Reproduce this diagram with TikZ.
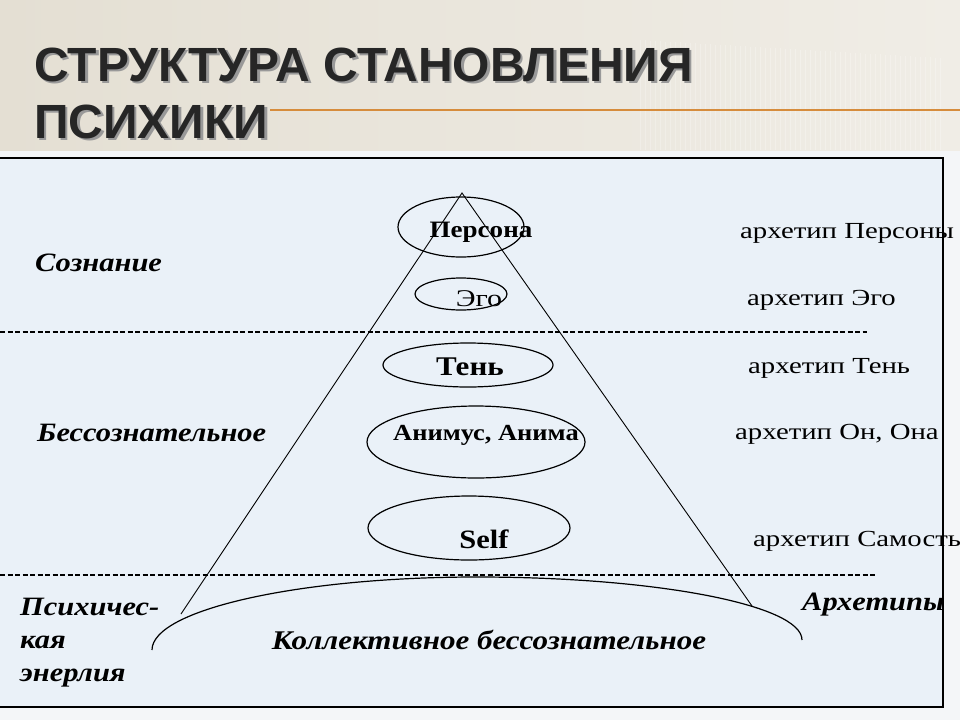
\documentclass[tikz,border=0pt]{standalone}
\usepackage{fontspec}
\setmainfont{Liberation Serif}
\newfontfamily\titlefont{Liberation Sans}
\newfontfamily\diagfont[FakeStretch=1.15]{Liberation Serif}
\newfontfamily\archfont[FakeStretch=1.25]{Liberation Serif}
\usetikzlibrary{shapes.geometric}
\definecolor{beigeL}{RGB}{228,223,211}
\definecolor{beigeR}{RGB}{240,237,230}
\definecolor{boxblue}{RGB}{234,241,248}
\definecolor{orangeline}{RGB}{214,140,60}
\definecolor{pagebg}{RGB}{244,246,248}
\newcommand{\shadowed}[1]{\makebox[0pt][l]{\hspace{2.5pt}\raisebox{-2.5pt}{\color{black!40}#1}}#1}
\tikzset{
  titletext/.style={anchor=base west, inner sep=0pt, font=\titlefont\bfseries\fontsize{48}{48}\selectfont, text=black!85},
  ellbox/.style={draw, ellipse, line width=1.2pt, inner sep=0pt},
  elltext/.style={inner sep=0pt, font=\diagfont\bfseries\fontsize{23}{23}\selectfont},
  archtext/.style={inner sep=0pt, anchor=west, font=\archfont\fontsize{23}{23}\selectfont},
  levtext/.style={inner sep=0pt, anchor=west, align=left, font=\diagfont\bfseries\itshape\fontsize{26.5}{33}\selectfont},
  sepline/.style={line width=1.3pt, dash pattern=on 5pt off 2.5pt},
  pyr/.style={line width=0.9pt},
}
\begin{document}
\begin{tikzpicture}[x=1pt,y=-1pt]
\useasboundingbox (0,0) rectangle (960,720);
\fill[pagebg] (0,0) rectangle (960,720);
\shade[left color=beigeL, right color=beigeR] (0,0) rectangle (960,150);
\foreach \i in {0,...,60} {
  \draw[white, opacity=0.25, line width=0.8pt] (640+\i*5,40+\i*0.3) -- (640+\i*5,150);
}
\draw[orangeline, line width=2pt] (270,110) -- (960,110);
% title
\node[titletext] (t1) at (34,81) {\shadowed{СТРУКТУРА СТАНОВЛЕНИЯ}};
\node[titletext] (t2) at (34,138) {\shadowed{ПСИХИКИ}};
% box
\draw[fill=boxblue, line width=1.3pt] (-3,158) rectangle (943,707);
% separators
\draw[sepline] (0,332) -- (867,332);
\draw[sepline] (0,575) -- (877,575);
% pyramid
\coordinate (apex) at (462,193);
\coordinate (bl) at (181,614);
\coordinate (br) at (752,606);
\draw[pyr] (bl) -- (apex) -- (br);
% collective arc
\coordinate (cl) at (152,650);
\coordinate (ct) at (477,577);
\coordinate (cr) at (802,640);
\draw[line width=1.2pt] (cl) .. controls (152,610) and (298,577) .. (ct)
  .. controls (656,577) and (802,605) .. (cr);
% ellipses
\node[ellbox, minimum width=126pt, minimum height=60pt] (persona) at (461,227) {};
\node[ellbox, minimum width=92pt, minimum height=32pt] (ego) at (461,294) {};
\node[ellbox, minimum width=170pt, minimum height=44pt] (shadow) at (468,365) {};
\node[ellbox, minimum width=218pt, minimum height=72pt] (anima) at (476,442) {};
\node[ellbox, minimum width=202pt, minimum height=64pt] (self) at (469,528) {};
\node[elltext, font=\diagfont\bfseries\fontsize{23.5}{23}\selectfont] (tpersona) at (481,232) {Персона};
\node[elltext, font=\archfont\fontsize{24}{24}\selectfont] (tego) at (479,299) {Эго};
\node[elltext, font=\diagfont\bfseries\fontsize{27}{27}\selectfont] (tshadow) at (470,367) {Тень};
\node[elltext] (tanima) at (486,435) {Анимус, Анима};
\node[elltext, font=\diagfont\bfseries\fontsize{26.5}{27}\selectfont] (tself) at (484,539) {Self};
% right labels
\node[archtext] (a1) at (740,233) {архетип Персоны};
\node[archtext] (a2) at (747,300) {архетип Эго};
\node[archtext] (a3) at (748,368) {архетип Тень};
\node[archtext] (a4) at (735,434) {архетип Он, Она};
\node[archtext] (a5) at (753,541) {архетип Самость};
% left labels
\node[levtext] (l1) at (35,263) {Сознание};
\node[levtext] (l2) at (37,433) {Бессознательное};
\node[levtext, anchor=north west] (l3) at (20,598) {Психичес-\\кая\\энерлия};
\node[levtext] (l4) at (802,605) {Архетипы};
\node[levtext, anchor=center, font=\diagfont\bfseries\itshape\fontsize{27}{27}\selectfont] (l5) at (489,640) {Коллективное бессознательное};
\end{tikzpicture}
\end{document}
